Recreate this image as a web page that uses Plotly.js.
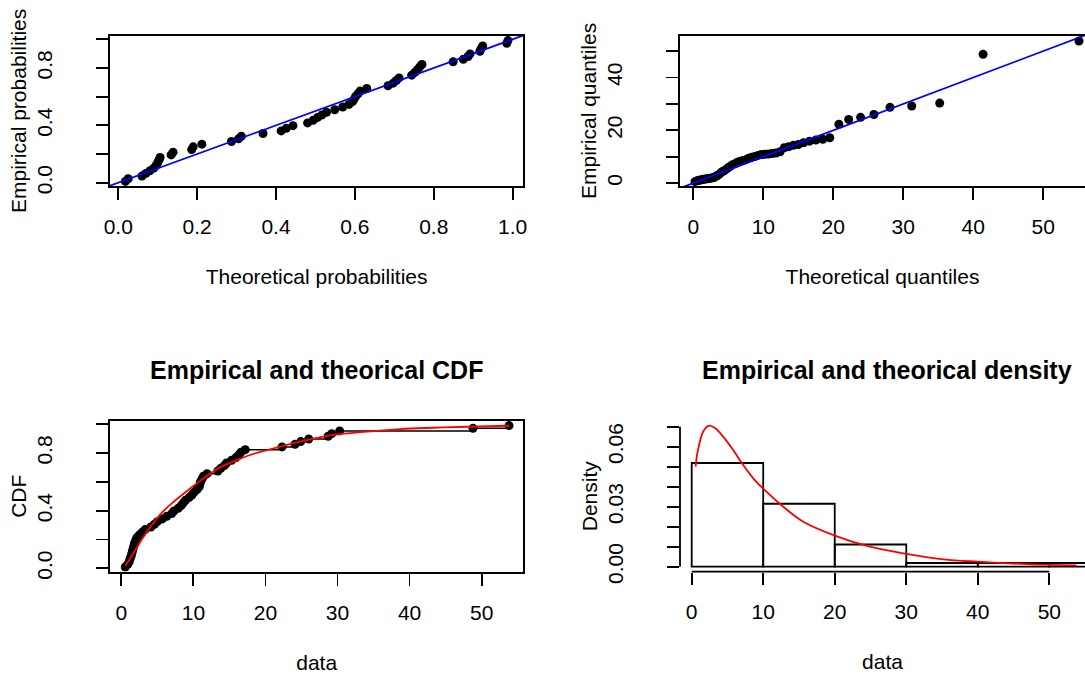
<!DOCTYPE html>
<html><head><meta charset="utf-8">
<script src="https://cdn.plot.ly/plotly-3.0.1.min.js"></script>
<style>html,body{margin:0;padding:0;background:#fff;} #plot{width:1085px;height:675px;}</style>
</head><body><div id="plot"></div>
<script>
// sorted observations
const data = [0.55, 0.9, 1.1, 1.2, 1.35, 1.45, 1.55, 1.65, 1.75, 1.85, 2.0, 2.15, 2.5, 2.9, 3.3, 4.1, 4.6, 5.0,
  5.7, 6.3, 7.0, 7.3, 7.9, 8.3, 8.6, 8.9, 9.4, 9.8, 10.1, 10.5, 10.8, 10.9, 11.0, 11.2, 11.4, 11.9,
  13.4, 13.8, 14.3, 14.6, 15.3, 15.9, 16.3, 16.6, 17.2, 22.3, 24.1, 24.9, 26.0, 28.7, 29.2, 30.3, 48.8, 53.8];
// empirical probabilities (plotting positions)
const empProb = [0.009, 0.028, 0.046, 0.065, 0.083, 0.102, 0.120, 0.139, 0.157, 0.176, 0.194, 0.213, 0.231, 0.250,
  0.269, 0.287, 0.306, 0.324, 0.343, 0.361, 0.380, 0.398, 0.417, 0.435, 0.454, 0.472, 0.491, 0.509, 0.528, 0.546,
  0.565, 0.583, 0.602, 0.620, 0.639, 0.657, 0.676, 0.694, 0.713, 0.731, 0.750, 0.769, 0.787, 0.806, 0.824, 0.843,
  0.861, 0.880, 0.898, 0.917, 0.935, 0.954, 0.972, 0.991];
// theoretical probabilities (P-P)
const theoProb = [0.018, 0.025, 0.060, 0.070, 0.080, 0.090, 0.096, 0.100, 0.103, 0.106, 0.134, 0.139, 0.186, 0.190,
  0.212, 0.287, 0.305, 0.312, 0.367, 0.413, 0.426, 0.443, 0.480, 0.494, 0.505, 0.516, 0.528, 0.549, 0.569, 0.585,
  0.594, 0.598, 0.602, 0.608, 0.613, 0.630, 0.684, 0.697, 0.705, 0.712, 0.744, 0.752, 0.758, 0.764, 0.770, 0.849,
  0.875, 0.887, 0.892, 0.917, 0.920, 0.924, 0.985, 0.988];
// theoretical quantiles (Q-Q)
const theoQuant = [0.24, 0.55, 0.8, 1.05, 1.3, 1.5, 1.75, 1.95, 2.2, 2.45, 2.7, 2.95, 3.2, 3.45, 3.7, 4.0, 4.3, 4.6,
  4.9, 5.25, 5.6, 5.95, 6.3, 6.7, 7.1, 7.5, 7.9, 8.35, 8.8, 9.25, 9.7, 10.2, 10.7, 11.25, 11.8, 12.4, 13.0, 13.65,
  14.3, 15.0, 15.75, 16.6, 17.5, 18.5, 19.5, 20.8, 22.2, 23.9, 25.8, 28.1, 31.2, 35.2, 41.4, 55.1];
// fitted density curve
const densX = [0.55, 0.75, 0.95, 1.4, 1.9, 2.45, 3.3, 4.4, 5.8, 7.2, 8.6, 10.0, 12.8, 15.6, 20.2, 24.9, 29.6, 35.2, 40.0, 46.9, 53.8];
const densY = [0.050, 0.056, 0.0595, 0.0658, 0.0692, 0.0705, 0.0692, 0.065, 0.0583, 0.0508, 0.0442, 0.039, 0.030,
  0.0225, 0.0153, 0.010, 0.0067, 0.0037, 0.0025, 0.0013, 0.0007];
// fitted CDF curve
const cdfX = [0.55, 1.0, 1.67, 2.36, 3.5, 4.68, 5.8, 7.0, 8.2, 9.3, 10.5, 11.6, 13.9, 16.25, 18.6, 20.2, 24.8, 29.4, 34.1, 38.7, 43.3, 48.0, 53.8];
const cdfY = [0.018, 0.05, 0.105, 0.16, 0.25, 0.33, 0.395, 0.451, 0.5, 0.544, 0.59, 0.632, 0.706, 0.757, 0.799, 0.82,
  0.879, 0.926, 0.949, 0.967, 0.976, 0.983, 0.99];

// ticks
const probTicks = [0, 0.2, 0.4, 0.6, 0.8, 1.0];
const probXLabels = ['0.0', '0.2', '0.4', '0.6', '0.8', '1.0'];
const probYLabels = ['0.0', '', '0.4', '', '0.8', ''];
const dataTicks = [0, 10, 20, 30, 40, 50];
const dataTickLabels = ['0', '10', '20', '30', '40', '50'];
const qqYLabels = ['0', '', '20', '', '40', ''];
const densTicks = [0, 0.01, 0.02, 0.03, 0.04, 0.05, 0.06, 0.07];
const densTickLabels = ['0.00', '', '', '0.03', '', '', '0.06', ''];

// axis ranges
const ppXRange = [-0.021, 1.027], ppYRange = [-0.025, 1.0265];
const qqXRange = [-1.9, 55.96], qqYRange = [-1.2, 55.9];
const cdfXRange = [-1.568, 55.78], cdfYRange = [-0.0236, 1.025];
const hXRange = [-1.636, 54.99], hYRange = [-0.0025, 0.073];

const W = 1085, H = 675;
const dx = (a, b) => [a / W, b / W];
const dy = (top, bottom) => [1 - bottom / H, 1 - top / H];
const colL = dx(110, 523.3), colR = dx(680, 1085);
const rowT = dy(35.5, 186.3), rowB = dy(420.7, 571.7);

const FONT = 'Liberation Sans, Arial, Helvetica, sans-serif';
const LW = 1.8;
const pt = {color: 'black', size: 9};

function ax(domain, range, tickvals, ticktext, title, opts) {
  return Object.assign({
    domain, range, tickvals, ticktext, autorange: false,
    showgrid: false, zeroline: false, showline: true, linecolor: 'black', linewidth: LW, mirror: true,
    ticks: 'outside', ticklen: 12, tickwidth: LW, tickcolor: 'black',
    tickfont: {size: 21, family: FONT, color: 'black'},
    title: {text: title, font: {size: 21, family: FONT, color: 'black'}, standoff: 32}
  }, opts || {});
}
const yOpts = (anchor, extra) => Object.assign({anchor, tickangle: -90, ticklabelstandoff: 36,
  title: null}, extra || {});

const traces = [
  // P-P
  {type: 'scatter', mode: 'markers', x: theoProb, y: empProb, xaxis: 'x', yaxis: 'y', marker: pt, hoverinfo: 'none'},
  {type: 'scatter', mode: 'lines', x: ppXRange, y: ppXRange, xaxis: 'x', yaxis: 'y', line: {color: 'blue', width: LW}, hoverinfo: 'none'},
  // Q-Q
  {type: 'scatter', mode: 'markers', x: theoQuant, y: data, xaxis: 'x2', yaxis: 'y2', marker: pt, hoverinfo: 'none'},
  {type: 'scatter', mode: 'lines', x: qqXRange, y: qqXRange, xaxis: 'x2', yaxis: 'y2', line: {color: 'blue', width: LW}, hoverinfo: 'none'},
  // CDF
  {type: 'scatter', mode: 'lines+markers', x: data, y: empProb, xaxis: 'x3', yaxis: 'y3', marker: pt,
   line: {color: 'black', width: 1.5, shape: 'hv'}, hoverinfo: 'none'},
  {type: 'scatter', mode: 'lines', x: cdfX, y: cdfY, xaxis: 'x3', yaxis: 'y3', line: {color: 'red', width: LW, shape: 'spline'}, hoverinfo: 'none'},
  // density
  {type: 'histogram', x: data, xaxis: 'x4', yaxis: 'y4', histnorm: 'probability density',
   xbins: {start: 0, end: 60, size: 10}, autobinx: false,
   marker: {color: 'rgba(255,255,255,0)', line: {color: 'black', width: LW}}, hoverinfo: 'none'},
  {type: 'scatter', mode: 'lines', x: densX, y: densY, xaxis: 'x4', yaxis: 'y4', line: {color: 'red', width: LW, shape: 'spline'}, hoverinfo: 'none'}
];

function yTitle(text) {
  return {text, font: {size: 21, family: FONT, color: 'black'}, standoff: 0};
}

const layout = {
  width: W, height: H, margin: {l: 0, r: 0, t: 0, b: 0},
  paper_bgcolor: 'white', plot_bgcolor: 'white', showlegend: false, bargap: 0,
  font: {family: FONT, size: 21, color: 'black'},
  xaxis: ax(colL, ppXRange, probTicks, probXLabels, 'Theoretical probabilities', {anchor: 'y', ticklabelstandoff: 9}),
  yaxis: ax(rowT, ppYRange, probTicks, probYLabels, '', {anchor: 'x', tickangle: -90, ticklabelstandoff: 36, title: yTitle('Empirical probabilities')}),
  xaxis2: ax(colR, qqXRange, dataTicks, dataTickLabels, 'Theoretical quantiles', {anchor: 'y2', ticklabelstandoff: 9}),
  yaxis2: ax(rowT, qqYRange, dataTicks, qqYLabels, '', {anchor: 'x2', tickangle: -90, mirror: false, ticklabelstandoff: 36, title: yTitle('Empirical quantiles')}),
  xaxis3: ax(colL, cdfXRange, dataTicks, dataTickLabels, 'data', {anchor: 'y3', ticklabelstandoff: 9}),
  yaxis3: ax(rowB, cdfYRange, probTicks, probYLabels, '', {anchor: 'x3', tickangle: -90, ticklabelstandoff: 36, title: yTitle('CDF')}),
  xaxis4: ax(colR, hXRange, dataTicks, dataTickLabels, 'data', {anchor: 'y4', showline: false, mirror: false, ticklabelstandoff: 9}),
  yaxis4: ax(rowB, hYRange, densTicks, densTickLabels, '', {anchor: 'x4', showline: false, mirror: false, tickangle: -90, ticklabelstandoff: 36, title: yTitle('Density')}),
  shapes: [
    {type: 'line', xref: 'x4', yref: 'y4 domain', x0: dataTicks[0], x1: dataTicks[dataTicks.length - 1], y0: 0, y1: 0,
     line: {color: 'black', width: LW}},
    {type: 'line', xref: 'x4 domain', yref: 'y4', x0: 0, x1: 0, y0: densTicks[0], y1: densTicks[densTicks.length - 1],
     line: {color: 'black', width: LW}}
  ],
  annotations: [
    {text: '<b>Empirical and theorical CDF</b>', xref: 'paper', yref: 'paper', x: (colL[0] + colL[1]) / 2, y: 1 - 370 / H,
     xanchor: 'center', yanchor: 'middle', showarrow: false, font: {size: 25, family: FONT, color: 'black'}},
    {text: '<b>Empirical and theorical density</b>', xref: 'paper', yref: 'paper', x: (680 + 1093) / 2 / W, y: 1 - 370 / H,
     xanchor: 'center', yanchor: 'middle', showarrow: false, font: {size: 25, family: FONT, color: 'black'}}
  ]
};

Plotly.newPlot('plot', traces, layout, {displayModeBar: false, staticPlot: true});
</script>
</body></html>
